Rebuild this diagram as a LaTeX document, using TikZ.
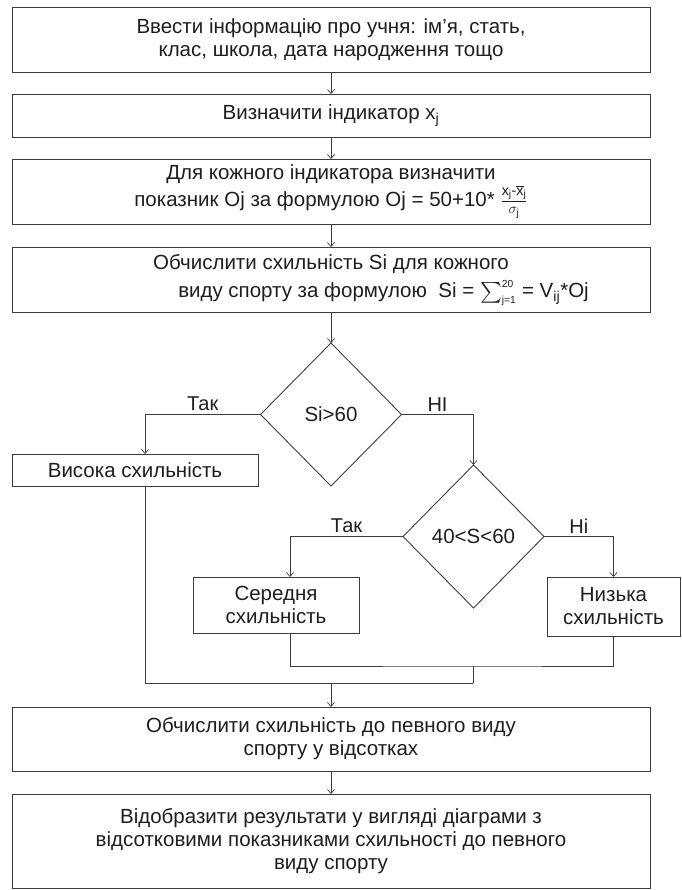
\documentclass[tikz,border=0pt]{standalone}
\usepackage{amsmath}
\usepackage{fontspec}
\setmainfont{Liberation Sans}
\usetikzlibrary{arrows.meta,positioning,shapes.geometric}
\definecolor{flowline}{HTML}{3C3C3C}
\definecolor{flowtext}{HTML}{1E1E1E}

\begin{document}
\begin{tikzpicture}[x=1pt,y=1pt,
  proc/.style={draw=flowline,line width=0.9pt,fill=white,minimum width=638pt,
               align=center,inner sep=0pt,outer sep=0pt,text=flowtext,
               font=\fontsize{20.5}{23}\selectfont},
  cond/.style={draw=flowline,line width=0.9pt,shape=diamond,minimum width=141pt,
               minimum height=143pt,inner sep=0pt,outer sep=0pt,text=flowtext,
               font=\fontsize{20.5}{23}\selectfont},
  lbl/.style={text=flowtext,font=\fontsize{20}{22}\selectfont,inner sep=3pt},
  link/.style={flowline,line width=0.7pt},
  arr/.style={link,-{Straight Barb[length=4pt,width=7pt]}}]
  \useasboundingbox (0,0) rectangle (681,-890);
  \node[proc,minimum height=65pt] (b1) at (331,-39.5)
    {Ввести інформацію про учня: ім’я, стать,\\клас, школа, дата народження тощо};
  \node[proc,minimum height=43pt,below=22pt of b1] (b2)
    {Визначити індикатор x\textsubscript{j}};
  \node[proc,minimum height=65pt,below=22pt of b2] (b3)
    {Для кожного індикатора визначити\\
     показник Oj за формулою Oj = 50+10* $\frac{\text{x}_{\text{j}}\text{-}\overline{\text{x}}_{\text{j}}}{\sigma_{\text{j}}}$};
  \node[proc,minimum height=65pt,below=23pt of b3] (b4)
    {Обчислити схильність Si для кожного\\[5pt]
     \hspace*{105pt}виду спорту за формулою\ \ Si = \smash{$\sum_{\scriptscriptstyle\text{j=1}}^{\scriptscriptstyle\text{20}}$} = V\textsubscript{ij}*Oj};
  \node[cond,below=31pt of b4] (d1) {Si>60};
  \node[proc,minimum width=246pt,minimum height=32pt] (high) at (135,-470)
    {Висока схильність};
  \node[cond] (d2) at (473.5,-536.5) {40<S<60};
  \node[proc,minimum width=166pt,minimum height=56pt] (mid) at (276,-605)
    {Середня\\схильність};
  \node[proc,minimum width=133pt,minimum height=59pt] (low) at (613.5,-606.5)
    {Низька\\схильність};
  \node[proc,minimum height=64pt] (b5) at (331,-739)
    {Обчислити схильність до певного виду\\спорту у відсотках};
  \node[proc,minimum height=94pt,below=23pt of b5] (b6)
    {Відобразити результати у вигляді діаграми з\\
     відсотковими показниками схильності до певного\\виду спорту};
  % entry points of the branches
  \coordinate (highin) at (145,-454);
  \coordinate (midin) at (290,-577);
  \coordinate (j1) at (473,-666);
  \coordinate (j2) at (473,-683);
  \draw[arr] (b1) -- (b2);
  \draw[arr] (b2) -- (b3);
  \draw[arr] (b3) -- (b4);
  \draw[arr] (b4) -- (d1);
  \draw[arr] (d1.west) -| node[lbl,pos=0.25,above]{Так} (highin);
  \draw[arr] (d1.east) -| node[lbl,pos=0.25,above]{НІ} (d2.north);
  \draw[arr] (d2.west) -| node[lbl,pos=0.25,above]{Так} (midin);
  \draw[arr] (d2.east) -| node[lbl,pos=0.25,above]{Ні} (low.north);
  \draw[link] (midin |- mid.south) |- (j1) -| (low.south);
  \draw[link] (j1) -- (j2);
  \draw[link] (highin |- high.south) |- (j2);
  \draw[arr] (b5.north |- j2) -- (b5);
  \draw[arr] (b5) -- (b6);
\end{tikzpicture}
\end{document}
